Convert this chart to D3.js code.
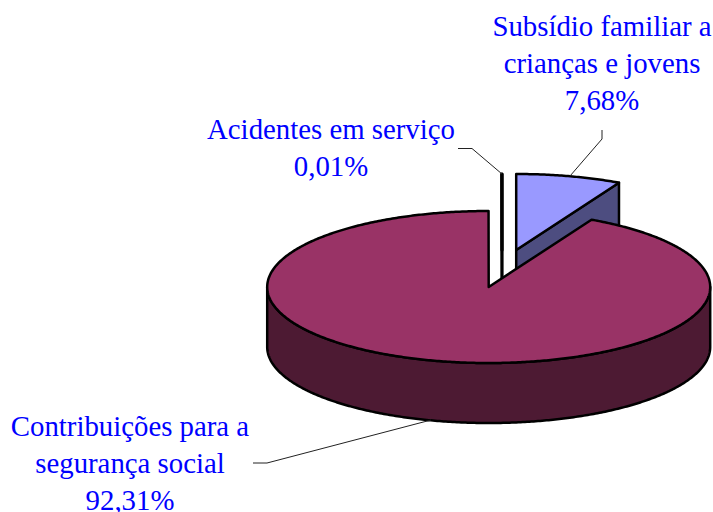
<!DOCTYPE html>
<html><head><meta charset="utf-8">
<script src="https://cdnjs.cloudflare.com/ajax/libs/d3/7.8.5/d3.min.js"></script>
<style>html,body{margin:0;padding:0;background:#fff}svg{display:block}
text{font-family:"Liberation Serif","Times New Roman",serif;font-size:28.8px;fill:#0000ff;text-anchor:middle}</style>
</head><body><svg id="c" width="713" height="512"></svg>
<script>
const categories = [["Subsídio familiar a","crianças e jovens"],["Contribuições para a","segurança social"],["Acidentes em serviço"]];
const values = [7.68, 92.31, 0.01];
const topColors = ["#9999ff","#993366","#ffffff"];
const sideColors = ["#4d4d80","#4d1a33","#ffffff"];

const W=713,H=512,cx=488.7,cy=287,rx=221.5,ry=76,depth=60;
const offsets=[[27.5,-37],[0,0],[13.3,-37]];
const labelPos=[[602,36],[130,436],[331,139]];
const leaders=[[[570,176],[602,139],[602,130]],[[431,420],[267,463],[253,463]],[[502,174],[472,148.5],[458,148.5]]];
const lineH=36.8;

const svg=d3.select("#c");
const pie=d3.pie().sort(null).value(d=>d);
const arcs=pie(values);
const sx=d3.scaleLinear().domain([-1,1]).range([cx-rx,cx+rx]);
const sy=d3.scaleLinear().domain([-1,1]).range([cy-ry,cy+ry]);
const line=d3.line();
function arcPts(a0,a1,dx,dy){
  const n=Math.max(2,Math.ceil(Math.abs(a1-a0)/0.01));
  return d3.range(n+1).map(i=>{const a=a0+(a1-a0)*i/n;return [sx(Math.sin(a))+dx,sy(-Math.cos(a))+dy];});
}
const sw=[2.5,2.5,3.2];
// draw back-to-front: thin slice, small slice, large slice
[2,0,1].forEach(i=>{
  const d=arcs[i],[dx,dy]=offsets[i];
  const g=svg.append("g").attr("stroke","#000").attr("stroke-width",sw[i]).attr("stroke-linejoin","round");
  const apex=[cx+dx,cy+dy];
  const a0=d.startAngle,a1=d.endAngle;
  if(i===1){
    const w0=Math.PI/2,w1=Math.PI*1.5;
    const top=arcPts(w0,w1,dx,dy),bot=arcPts(w1,w0,dx,dy+depth);
    g.append("path").attr("d",line(top.concat(bot))+"Z").attr("fill",sideColors[i]);
  } else {
    const end=arcPts(a1,a1,dx,dy)[0];
    const start=arcPts(a0,a0,dx,dy)[0];
    const e=i===0?end:start;
    g.append("path").attr("d",line([apex,e,[e[0],e[1]+depth],[apex[0],apex[1]+depth]])+"Z").attr("fill",sideColors[i]);
  }
  g.append("path").attr("d",line([apex].concat(arcPts(a0,a1,dx,dy)))+"Z").attr("fill",topColors[i]);
});
// leaders
leaders.forEach(p=>svg.append("path").attr("d",line(p)).attr("fill","none").attr("stroke","#222").attr("stroke-width",1));
// labels
const fmt=v=>v.toFixed(2).replace(".",",")+"%";
categories.forEach((c,i)=>{
  const t=svg.append("text");
  c.concat([fmt(values[i])]).forEach((s,j)=>{
    t.append("tspan").attr("x",labelPos[i][0]).attr("y",labelPos[i][1]+j*lineH).text(s);
  });
});
</script></body></html>
